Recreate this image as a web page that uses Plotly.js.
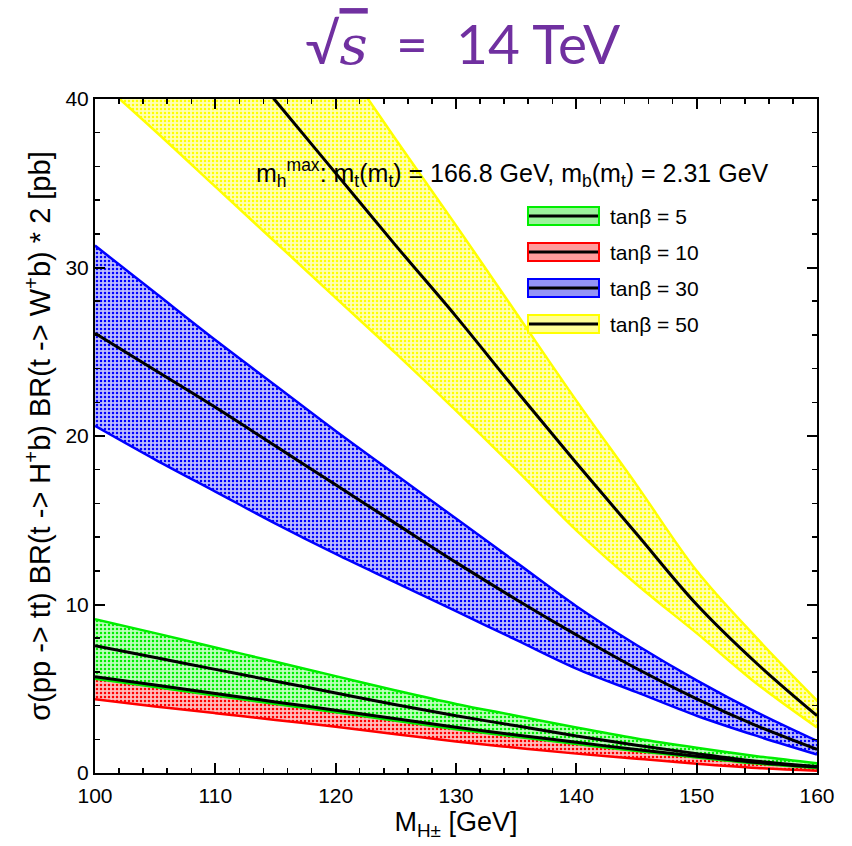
<!DOCTYPE html>
<html>
<head>
<meta charset="utf-8">
<script src="https://cdn.plot.ly/plotly-3.0.1.min.js"></script>
<style>html,body{margin:0;padding:0;background:#fff;}#chart{width:852px;height:846px;}</style>
</head>
<body>
<div id="chart"></div>
<script>
// Charged Higgs mass grid [GeV]
const mass = [100, 105, 110, 115, 120, 125, 130, 135, 140, 145, 150, 155, 160];

// tanβ = 5 (green band)
const t5_hi  = [9.13, 8.30, 7.45, 6.60, 5.75, 4.90, 4.10, 3.40, 2.70, 2.05, 1.50, 1.00, 0.58];
const t5_mid = [7.55, 6.85, 6.15, 5.45, 4.75, 4.05, 3.40, 2.80, 2.20, 1.65, 1.15, 0.70, 0.38];
const t5_lo  = [5.60, 5.10, 4.60, 4.10, 3.60, 3.10, 2.60, 2.15, 1.72, 1.30, 0.92, 0.56, 0.30];

// tanβ = 10 (red band)
const t10_hi  = [5.65, 5.15, 4.65, 4.15, 3.65, 3.15, 2.65, 2.20, 1.76, 1.34, 0.95, 0.59, 0.33];
const t10_mid = [5.72, 5.22, 4.72, 4.22, 3.72, 3.22, 2.72, 2.26, 1.82, 1.39, 0.99, 0.62, 0.35];
const t10_lo  = [4.38, 3.95, 3.55, 3.15, 2.75, 2.30, 1.87, 1.50, 1.15, 0.85, 0.55, 0.30, 0.14];

// tanβ = 30 (blue band)
const t30_hi  = [31.3, 28.5, 25.7, 23.0, 20.3, 17.7, 15.1, 12.5, 9.9, 7.6, 5.5, 3.6, 1.9];
const t30_mid = [26.1, 23.9, 21.7, 19.4, 17.1, 14.8, 12.5, 10.3, 8.2, 6.2, 4.4, 2.8, 1.4];
const t30_lo  = [20.6, 18.6, 16.7, 14.8, 13.0, 11.3, 9.6, 7.9, 6.2, 4.8, 3.4, 2.2, 1.1];

// tanβ = 50 (yellow band)
const t50_hi  = [63.0, 58.0, 53.0, 48.0, 42.8, 37.6, 32.5, 27.3, 22.1, 17.1, 12.0, 8.0, 4.3];
const t50_mid = [53.0, 48.7, 44.3, 39.9, 35.6, 31.3, 27.1, 22.7, 18.4, 14.2, 10.0, 6.5, 3.4];
const t50_lo  = [41.3, 38.1, 34.8, 31.5, 28.2, 24.9, 21.5, 18.0, 14.4, 11.2, 8.3, 5.3, 2.7];

const xTicks = [100, 110, 120, 130, 140, 150, 160];
const yTicks = [0, 10, 20, 30, 40];

const legendLabels = ['tanβ = 5', 'tanβ = 10', 'tanβ = 30', 'tanβ = 50'];

const bands = [
  {lo: t50_lo, hi: t50_hi, mid: t50_mid, color: '#ffff00', bg: '#ffffb4', sw: '#ffff98', name: legendLabels[3]},
  {lo: t30_lo, hi: t30_hi, mid: t30_mid, color: '#0000ff', bg: '#bcbcff', sw: '#9494f6', name: legendLabels[2]},
  {lo: t10_lo, hi: t10_hi, mid: t10_mid, color: '#ff0000', bg: '#ffbcbc', sw: '#ff9c9c', name: legendLabels[1]},
  {lo: t5_lo,  hi: t5_hi,  mid: t5_mid,  color: '#00ee00', bg: '#bcffbc', sw: '#9cf29c', name: legendLabels[0]}
];

const traces = [];
bands.forEach(b => {
  traces.push({x: mass, y: b.lo, type: 'scatter', mode: 'lines', showlegend: false, hoverinfo: 'skip',
    line: {color: b.color, width: 2.5, shape: 'spline'}});
  traces.push({x: mass, y: b.hi, type: 'scatter', mode: 'lines', showlegend: false, hoverinfo: 'skip',
    fill: 'tonexty', fillcolor: b.bg,
    fillpattern: {shape: '.', fgcolor: b.color, bgcolor: b.bg, size: 4, solidity: 0.3},
    line: {color: b.color, width: 2.5, shape: 'spline'}});
});
bands.forEach(b => {
  traces.push({x: mass, y: b.mid, type: 'scatter', mode: 'lines', showlegend: false, hoverinfo: 'skip',
    line: {color: '#000000', width: 3, shape: 'spline'}});
});

// manual legend (paper coordinates)
const W = 722, H = 674, L = 95, B = 773;
const px = v => (v - L) / W;
const py = v => (B - v) / H;
const legendOrder = [bands[3], bands[2], bands[1], bands[0]];
const rowY = [216, 252, 288, 324];
const shapes = [];
const annotations = [];
legendOrder.forEach((b, i) => {
  shapes.push({type: 'rect', xref: 'paper', yref: 'paper',
    x0: px(528), x1: px(599), y0: py(rowY[i] + 9), y1: py(rowY[i] - 9),
    fillcolor: b.sw, line: {color: b.color, width: 2}});
  shapes.push({type: 'line', xref: 'paper', yref: 'paper',
    x0: px(529), x1: px(598), y0: py(rowY[i]), y1: py(rowY[i]),
    line: {color: '#000', width: 3}});
  annotations.push({xref: 'paper', yref: 'paper', x: px(608), y: py(rowY[i]),
    xanchor: 'left', yanchor: 'middle', showarrow: false, text: b.name,
    font: {family: 'Liberation Sans, Arial, sans-serif', size: 21, color: '#000'}});
});
annotations.push({xref: 'paper', yref: 'paper', x: px(512), y: py(173),
  xanchor: 'center', yanchor: 'middle', showarrow: false,
  text: 'm<sub>h</sub><sup>max</sup>: m<sub>t</sub>(m<sub>t</sub>) = 166.8 GeV, m<sub>b</sub>(m<sub>t</sub>) = 2.31 GeV',
  font: {family: 'Liberation Sans, Arial, sans-serif', size: 25, color: '#000'}});

const axisFont = {family: 'Liberation Sans, Arial, sans-serif', size: 21, color: '#000'};

const layout = {
  width: 852, height: 846,
  margin: {l: 95, r: 35, t: 99, b: 73},
  paper_bgcolor: '#fff', plot_bgcolor: '#fff',
  showlegend: false,
  title: {
    text: '√<span style="font-family:\'DejaVu Serif\';font-style:italic;text-decoration:overline">s</span>\u00a0\u00a0=\u00a0\u00a014 TeV',
    font: {family: 'Lato, "Open Sans", sans-serif', size: 55, color: '#7030a0'},
    x: 0.543, xref: 'container', xanchor: 'center',
    y: 0.947, yref: 'container', yanchor: 'middle'
  },
  xaxis: {
    range: [100, 160], tickvals: xTicks, ticktext: xTicks.map(String),
    ticks: 'inside', ticklen: 10, tickwidth: 2, tickcolor: '#000',
    minor: {dtick: 2, ticks: 'inside', ticklen: 5, tickwidth: 1.5, tickcolor: '#000', showgrid: false},
    showline: true, linecolor: '#000', linewidth: 2, mirror: 'allticks',
    showgrid: false, zeroline: false, tickfont: axisFont, ticklabelstandoff: 3,
    title: {text: 'M<sub>H±</sub> [GeV]', font: {family: 'Liberation Sans, Arial, sans-serif', size: 27, color: '#000'}, standoff: 2}
  },
  yaxis: {
    range: [0, 40], tickvals: yTicks, ticktext: yTicks.map(String),
    ticks: 'inside', ticklen: 10, tickwidth: 2, tickcolor: '#000',
    minor: {dtick: 2, ticks: 'inside', ticklen: 5, tickwidth: 1.5, tickcolor: '#000', showgrid: false},
    showline: true, linecolor: '#000', linewidth: 2, mirror: 'allticks',
    showgrid: false, zeroline: false, tickfont: axisFont,
    title: {text: 'σ(pp -> tt) BR(t -> H<sup>+</sup>b) BR(t -> W<sup>+</sup>b) * 2 [pb]', font: {family: 'Liberation Sans, Arial, sans-serif', size: 29, color: '#000'}, standoff: 6}
  },
  shapes: shapes,
  annotations: annotations
};

Plotly.newPlot('chart', traces, layout, {displayModeBar: false, staticPlot: true});
</script>
</body>
</html>
